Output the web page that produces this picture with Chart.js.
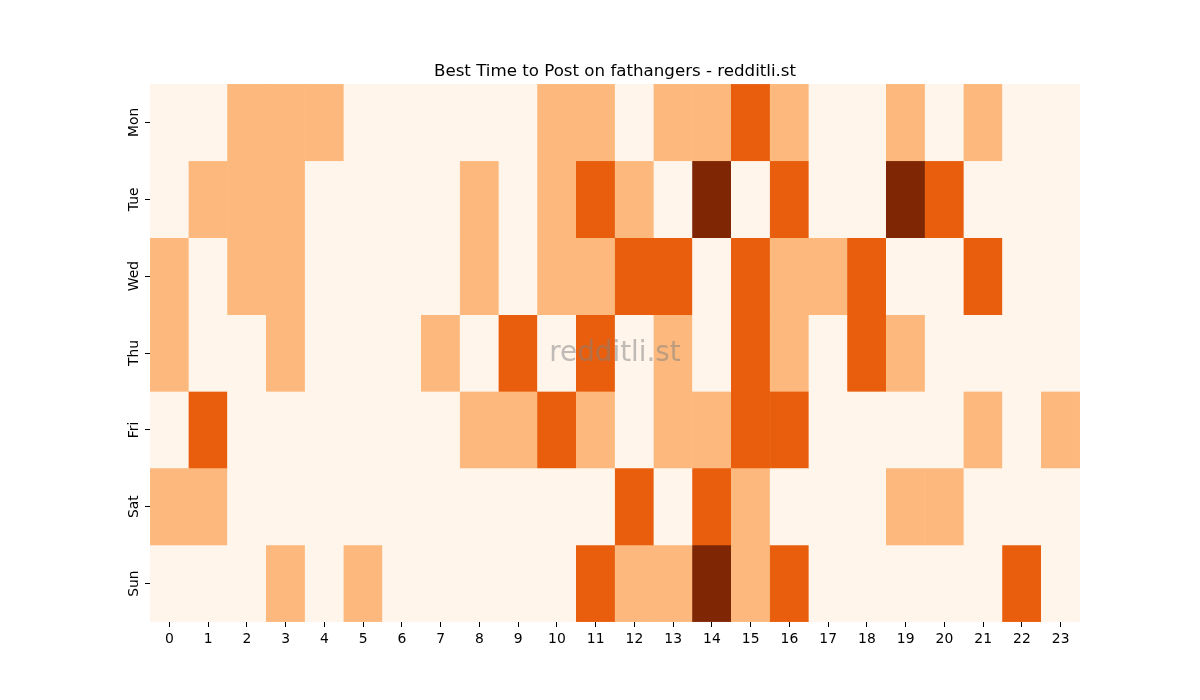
<!DOCTYPE html>
<html>
<head>
<meta charset="utf-8">
<style>
  html, body { margin: 0; padding: 0; background: #ffffff; }
  #c { display: block; }
</style>
<script src="https://cdn.jsdelivr.net/npm/chart.js@4/dist/chart.umd.min.js"></script>
</head>
<body>
<canvas id="c" width="1200" height="700"></canvas>
<script>
const hours = ['0','1','2','3','4','5','6','7','8','9','10','11','12','13','14','15','16','17','18','19','20','21','22','23'];
const days = ['Mon','Tue','Wed','Thu','Fri','Sat','Sun'];

const mon = [0,0,1,1,1,0,0,0,0,0,1,1,0,1,1,2,1,0,0,1,0,1,0,0];
const tue = [0,1,1,1,0,0,0,0,1,0,1,2,1,0,3,0,2,0,0,3,2,0,0,0];
const wed = [1,0,1,1,0,0,0,0,1,0,1,1,2,2,0,2,1,1,2,0,0,2,0,0];
const thu = [1,0,0,1,0,0,0,1,0,2,0,2,0,1,0,2,1,0,2,1,0,0,0,0];
const fri = [0,2,0,0,0,0,0,0,1,1,2,1,0,1,1,2,2,0,0,0,0,1,0,1];
const sat = [1,1,0,0,0,0,0,0,0,0,0,0,2,0,2,1,0,0,0,1,1,0,0,0];
const sun = [0,0,0,1,0,1,0,0,0,0,0,2,1,1,3,1,2,0,0,0,0,0,2,0];

const rows = [mon, tue, wed, thu, fri, sat, sun];
const palette = ['#fff5eb', '#fdb97d', '#e95e0d', '#7f2704'];

const FONT = "'DejaVu Sans', 'Liberation Sans', sans-serif";

const datasets = rows.map((vals, i) => ({
  label: days[i],
  data: vals.map(() => 1),
  counts: vals,
  backgroundColor: vals.map(v => palette[v]),
  borderColor: vals.map(v => palette[v]),
  borderWidth: 0.5,
  borderSkipped: false,
  barPercentage: 1,
  categoryPercentage: 1,
  stack: 'days'
}));

const watermark = {
  id: 'watermark',
  afterDatasetsDraw(chart) {
    const a = chart.chartArea;
    const ctx = chart.ctx;
    ctx.save();
    ctx.font = '27.8px ' + FONT;
    ctx.fillStyle = 'rgba(128,128,128,0.5)';
    ctx.textAlign = 'center';
    ctx.textBaseline = 'middle';
    ctx.fillText('redditli.st', (a.left + a.right) / 2, (a.top + a.bottom) / 2 + 1);
    ctx.restore();
  }
};

new Chart(document.getElementById('c'), {
  type: 'bar',
  data: { labels: hours, datasets },
  plugins: [watermark],
  options: {
    responsive: false,
    devicePixelRatio: 1,
    animation: false,
    layout: { padding: { left: 0, right: 120, top: 0, bottom: 0 } },
    plugins: {
      legend: { display: false },
      tooltip: { enabled: false },
      title: {
        display: true,
        fullSize: false,
        text: 'Best Time to Post on fathangers - redditli.st',
        color: '#000000',
        font: { family: FONT, size: 16.67, weight: 'normal', lineHeight: 1.2 },
        padding: { top: 62, bottom: 2 }
      }
    },
    scales: {
      x: {
        type: 'category',
        stacked: true,
        offset: true,
        border: { display: false },
        grid: { display: true, drawOnChartArea: false, drawTicks: true, offset: false, tickLength: 5, tickColor: '#000000', tickWidth: 1 },
        ticks: { color: '#000000', font: { family: FONT, size: 13.9 }, padding: 4, maxRotation: 0, minRotation: 0, autoSkip: false },
        afterFit(scale) { scale.height = 78; }
      },
      y: {
        type: 'linear',
        stacked: true,
        min: 0,
        max: 7,
        reverse: true,
        border: { display: false },
        grid: { display: true, drawOnChartArea: false, drawTicks: true, tickLength: 5, tickColor: '#000000', tickWidth: 1 },
        afterBuildTicks(scale) { scale.ticks = days.map((d, i) => ({ value: i + 0.5 })); },
        ticks: {
          color: '#000000',
          font: { family: FONT, size: 13.9 },
          minRotation: 90,
          maxRotation: 90,
          crossAlign: 'center',
          padding: -5,
          autoSkip: false,
          callback: (v) => days[Math.floor(v)]
        },
        afterFit(scale) { scale.width = 150; }
      }
    }
  }
});
</script>
</body>
</html>
